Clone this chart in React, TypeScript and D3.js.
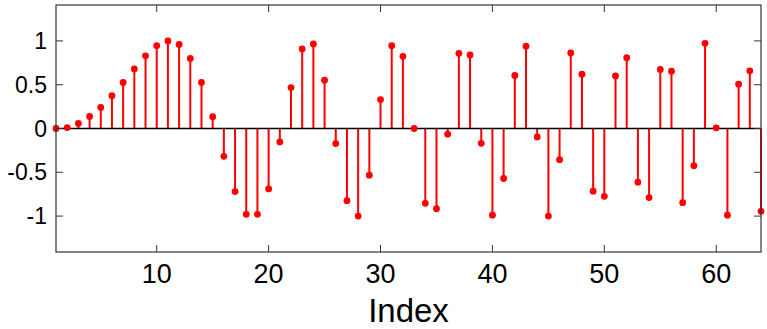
import React from "react";
import * as d3 from "d3";

const indices: number[] = Array.from({ length: 64 }, (_, i) => i + 1);
const values: number[] = [
  0.0, 0.01, 0.057, 0.138, 0.24, 0.375, 0.525, 0.68, 0.83, 0.946,
  1.0, 0.96, 0.8, 0.525, 0.134, -0.318, -0.72, -0.98, -0.98, -0.69,
  -0.153, 0.467, 0.908, 0.966, 0.552, -0.172, -0.824, -1.0, -0.533, 0.33,
  0.946, 0.824, 0.0, -0.854, -0.916, -0.065, 0.858, 0.839, -0.169, -0.99,
  -0.571, 0.605, 0.939, -0.096, -1.0, -0.356, 0.862, 0.62, -0.716, -0.774,
  0.6, 0.808, -0.613, -0.789, 0.674, 0.655, -0.847, -0.425, 0.973, 0.008,
  -0.99, 0.506, 0.659, -0.946,
];
const xTicks: number[] = [10, 20, 30, 40, 50, 60];
const yTicks: number[] = [-1, -0.5, 0, 0.5, 1];
const yTickLabels: string[] = ["-1", "-0.5", "0", "0.5", "1"];
const xLabel = "Index";

const W = 767;
const H = 329;
const left = 56;
const right = 761;
const top = 5;
const bottom = 252;

export default function App() {
  const x = d3.scaleLinear().domain([1, 64]).range([left, right]);
  const y = d3.scaleLinear().domain([-1.41, 1.41]).range([bottom, top]);
  const tickLen = 7;
  const font = "'Liberation Sans', Arial, Helvetica, sans-serif";
  return (
    <svg
      width={W}
      height={H}
      style={{ position: "absolute", left: 0, top: 0, background: "#fff" }}
    >
      <rect x={0} y={0} width={W} height={H} fill="#fff" />
      {indices.map((n, i) => (
        <line
          key={"s" + n}
          x1={x(n)}
          x2={x(n)}
          y1={y(0)}
          y2={y(values[i])}
          stroke="#ff0000"
          strokeWidth={2}
        />
      ))}
      <line x1={left} x2={right} y1={y(0)} y2={y(0)} stroke="#000" strokeWidth={1.3} />
      {indices.map((n, i) => (
        <circle key={"c" + n} cx={x(n)} cy={y(values[i])} r={3.4} fill="#ff0000" />
      ))}
      {xTicks.map((t) => (
        <g key={"xt" + t}>
          <line x1={x(t)} x2={x(t)} y1={bottom} y2={bottom - tickLen} stroke="#333" strokeWidth={1} />
          <line x1={x(t)} x2={x(t)} y1={top} y2={top + tickLen} stroke="#333" strokeWidth={1} />
          <text
            x={x(t)}
            y={283}
            textAnchor="middle"
            fontFamily={font}
            fontSize={27}
            fill="#000"
          >
            {t}
          </text>
        </g>
      ))}
      {yTicks.map((t, i) => (
        <g key={"yt" + t}>
          <line x1={left} x2={left + tickLen} y1={y(t)} y2={y(t)} stroke="#333" strokeWidth={1} />
          <line x1={right} x2={right - tickLen} y1={y(t)} y2={y(t)} stroke="#333" strokeWidth={1} />
          <text
            x={47}
            y={y(t)}
            textAnchor="end"
            dominantBaseline="central"
            fontFamily={font}
            fontSize={23}
            fill="#000"
          >
            {yTickLabels[i]}
          </text>
        </g>
      ))}
      <rect
        x={left}
        y={top}
        width={right - left}
        height={bottom - top}
        fill="none"
        stroke="#333"
        strokeWidth={1.2}
      />
      <text
        x={(left + right) / 2}
        y={322}
        textAnchor="middle"
        fontFamily={font}
        fontSize={33}
        fill="#000"
      >
        {xLabel}
      </text>
    </svg>
  );
}
